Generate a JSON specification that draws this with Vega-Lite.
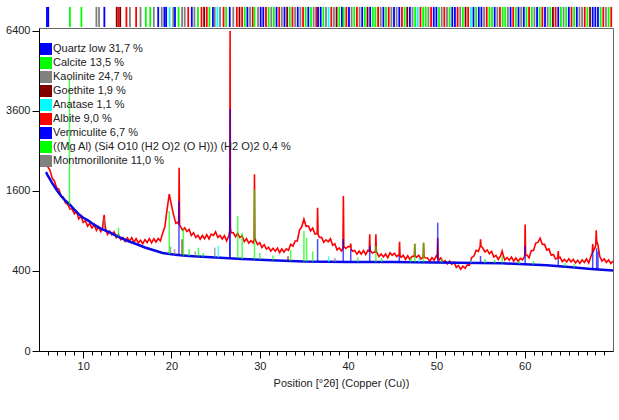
{
  "$schema": "https://vega.github.io/schema/vega-lite/v6.json",
  "width": 574,
  "height": 323,
  "padding": {"left": 5, "top": 6, "right": 6, "bottom": 5},
  "background": "white",
  "config": {
    "view": {"stroke": "#666666", "strokeWidth": 1},
    "font": "Liberation Sans",
    "axis": {"labelFont": "Liberation Sans", "titleFont": "Liberation Sans", "labelFontSize": 11, "titleFontSize": 11, "labelColor": "#222222", "titleColor": "#222222", "titleFontWeight": "normal", "domainColor": "#000000", "tickColor": "#000000", "grid": false}
  },
  "datasets": {
    "phases": [
      {"p": "Q", "name": "Quartz low 31,7 %"},
      {"p": "C", "name": "Calcite 13,5 %"},
      {"p": "K", "name": "Kaolinite 24,7 %"},
      {"p": "G", "name": "Goethite 1,9 %"},
      {"p": "A", "name": "Anatase 1,1 %"},
      {"p": "Ab", "name": "Albite 9,0 %"},
      {"p": "V", "name": "Vermiculite 6,7 %"},
      {"p": "M", "name": "((Mg Al) (Si4 O10 (H2 O)2 (O H))) (H2 O)2 0,4 %"},
      {"p": "Mt", "name": "Montmorillonite 11,0 %"}
    ],
    "obs": [
      {"x":5.75,"y":2295},{"x":6.0,"y":2118},{"x":6.25,"y":2040},{"x":6.5,"y":1862},{"x":6.75,"y":1807},{"x":7.0,"y":1663},{"x":7.25,"y":1640},{"x":7.5,"y":1497},{"x":7.75,"y":1479},{"x":8.0,"y":1369},{"x":8.25,"y":1343},{"x":8.5,"y":1259},{"x":8.75,"y":1259},{"x":9.0,"y":1176},{"x":9.25,"y":1218},{"x":9.5,"y":1091},{"x":9.75,"y":1139},{"x":10.0,"y":1033},{"x":10.25,"y":1061},{"x":10.5,"y":974},{"x":10.75,"y":1015},{"x":11.0,"y":946},{"x":11.25,"y":998},{"x":11.5,"y":907},{"x":11.75,"y":962},{"x":12.0,"y":892},
      {"x":12.2,"y":950},{"x":12.3,"y":1080},{"x":12.38,"y":1160},{"x":12.46,"y":1020},{"x":12.55,"y":930},
      {"x":12.75,"y":850},{"x":13.0,"y":896},{"x":13.25,"y":843},{"x":13.5,"y":887},{"x":13.75,"y":805},{"x":14.0,"y":848},{"x":14.25,"y":776},{"x":14.5,"y":806},{"x":14.75,"y":749},{"x":15.0,"y":798},{"x":15.25,"y":755},{"x":15.5,"y":803},{"x":15.75,"y":737},{"x":16.0,"y":788},{"x":16.25,"y":732},{"x":16.5,"y":767},{"x":16.75,"y":720},{"x":17.0,"y":775},{"x":17.25,"y":735},{"x":17.5,"y":790},{"x":17.75,"y":732},{"x":18.0,"y":788},{"x":18.25,"y":742},{"x":18.5,"y":790},{"x":18.75,"y":758},{"x":19.0,"y":865},{"x":19.25,"y":960},{"x":19.5,"y":1250},{"x":19.75,"y":1540},{"x":20.0,"y":1330},{"x":20.25,"y":1150},{"x":20.5,"y":1018},{"x":20.75,"y":1040},
      {"x":20.82,"y":1000},{"x":20.87,"y":2100},{"x":20.92,"y":1000},
      {"x":21.0,"y":975},{"x":21.25,"y":912},{"x":21.5,"y":948},{"x":21.75,"y":892},{"x":22.0,"y":924},{"x":22.25,"y":834},{"x":22.5,"y":874},{"x":22.75,"y":805},{"x":23.0,"y":836},{"x":23.25,"y":782},{"x":23.5,"y":834},{"x":23.75,"y":789},{"x":24.0,"y":845},{"x":24.25,"y":786},{"x":24.5,"y":853},{"x":24.75,"y":834},{"x":25.0,"y":887},{"x":25.25,"y":806},{"x":25.5,"y":834},{"x":25.75,"y":784},{"x":26.0,"y":830},{"x":26.25,"y":757},{"x":26.5,"y":832},
      {"x":26.6,"y":900},{"x":26.64,"y":6400},{"x":26.68,"y":950},
      {"x":26.75,"y":873},{"x":27.0,"y":877},{"x":27.25,"y":816},{"x":27.5,"y":865},{"x":27.75,"y":804},{"x":28.0,"y":830},{"x":28.25,"y":747},{"x":28.5,"y":790},{"x":28.75,"y":728},{"x":29.0,"y":760},{"x":29.25,"y":730},
      {"x":29.36,"y":780},{"x":29.4,"y":1950},{"x":29.44,"y":800},
      {"x":29.55,"y":760},{"x":29.75,"y":706},{"x":30.0,"y":735},{"x":30.25,"y":669},{"x":30.5,"y":707},{"x":30.75,"y":650},{"x":31.0,"y":673},{"x":31.25,"y":624},{"x":31.5,"y":659},{"x":31.75,"y":622},{"x":32.0,"y":662},{"x":32.25,"y":606},{"x":32.5,"y":650},{"x":32.75,"y":611},{"x":33.0,"y":653},{"x":33.25,"y":634},{"x":33.5,"y":711},{"x":33.75,"y":686},{"x":34.0,"y":756},{"x":34.25,"y":757},{"x":34.5,"y":915},{"x":34.75,"y":960},{"x":35.0,"y":1086},{"x":35.25,"y":970},{"x":35.5,"y":979},{"x":35.75,"y":902},{"x":36.0,"y":945},{"x":36.25,"y":854},
      {"x":36.5,"y":860},{"x":36.55,"y":1280},{"x":36.6,"y":850},
      {"x":36.75,"y":805},{"x":37.0,"y":806},{"x":37.25,"y":739},{"x":37.5,"y":773},{"x":37.75,"y":745},{"x":38.0,"y":788},{"x":38.25,"y":698},{"x":38.5,"y":718},{"x":38.75,"y":640},{"x":39.0,"y":663},{"x":39.25,"y":624},
      {"x":39.42,"y":660},{"x":39.47,"y":1500},{"x":39.52,"y":680},
      {"x":39.75,"y":657},{"x":40.0,"y":683},{"x":40.25,"y":680},{"x":40.3,"y":720},{"x":40.35,"y":650},{"x":40.5,"y":621},{"x":40.75,"y":632},{"x":41.0,"y":586},{"x":41.25,"y":623},{"x":41.5,"y":588},{"x":41.75,"y":630},{"x":42.0,"y":582},{"x":42.25,"y":634},
      {"x":42.4,"y":620},{"x":42.45,"y":850},{"x":42.5,"y":630},
      {"x":42.75,"y":601},{"x":43.0,"y":612},{"x":43.1,"y":610},{"x":43.15,"y":850},{"x":43.2,"y":620},
      {"x":43.5,"y":557},{"x":43.75,"y":587},{"x":44.0,"y":554},{"x":44.25,"y":588},{"x":44.5,"y":543},{"x":44.75,"y":603},{"x":45.0,"y":572},{"x":45.25,"y":597},{"x":45.5,"y":557},{"x":45.7,"y":575},
      {"x":45.78,"y":570},{"x":45.83,"y":747},{"x":45.88,"y":570},
      {"x":46.0,"y":549},{"x":46.25,"y":572},{"x":46.5,"y":524},{"x":46.75,"y":567},{"x":47.0,"y":524},{"x":47.25,"y":561},
      {"x":47.5,"y":560},{"x":47.55,"y":720},{"x":47.6,"y":565},
      {"x":47.75,"y":549},{"x":48.0,"y":572},{"x":48.25,"y":529},
      {"x":48.5,"y":550},{"x":48.55,"y":733},{"x":48.6,"y":555},
      {"x":48.75,"y":543},{"x":49.0,"y":541},{"x":49.25,"y":504},{"x":49.5,"y":546},{"x":49.75,"y":515},{"x":50.0,"y":567},
      {"x":50.1,"y":550},{"x":50.15,"y":800},{"x":50.2,"y":550},
      {"x":50.3,"y":514},{"x":50.5,"y":541},{"x":50.75,"y":490},{"x":51.0,"y":510},{"x":51.25,"y":475},{"x":51.5,"y":505},{"x":51.75,"y":470},{"x":52.0,"y":494},{"x":52.25,"y":437},{"x":52.5,"y":458},{"x":52.75,"y":417},{"x":53.0,"y":449},{"x":53.25,"y":427},{"x":53.5,"y":464},{"x":53.75,"y":461},{"x":54.0,"y":546},{"x":54.25,"y":563},{"x":54.5,"y":634},{"x":54.75,"y":621},
      {"x":54.95,"y":680},{"x":55.0,"y":780},{"x":55.05,"y":690},
      {"x":55.25,"y":663},{"x":55.5,"y":614},{"x":55.75,"y":639},{"x":56.0,"y":593},{"x":56.25,"y":620},{"x":56.5,"y":553},{"x":56.75,"y":572},{"x":57.0,"y":524},{"x":57.25,"y":561},{"x":57.45,"y":625},{"x":57.6,"y":560},{"x":57.75,"y":518},{"x":58.0,"y":546},{"x":58.25,"y":515},{"x":58.5,"y":551},{"x":58.75,"y":504},{"x":59.0,"y":541},{"x":59.25,"y":504},{"x":59.5,"y":536},{"x":59.75,"y":518},
      {"x":60.0,"y":560},{"x":60.05,"y":1000},{"x":60.1,"y":580},
      {"x":60.25,"y":577},{"x":60.5,"y":544},{"x":60.75,"y":630},{"x":61.0,"y":631},{"x":61.25,"y":728},{"x":61.5,"y":737},{"x":61.75,"y":796},{"x":62.0,"y":710},{"x":62.25,"y":711},{"x":62.5,"y":637},{"x":62.75,"y":651},{"x":63.0,"y":572},{"x":63.25,"y":582},{"x":63.5,"y":529},
      {"x":63.75,"y":540},{"x":63.8,"y":625},{"x":63.85,"y":540},
      {"x":64.0,"y":551},{"x":64.25,"y":499},{"x":64.5,"y":525},{"x":64.75,"y":495},{"x":65.0,"y":530},{"x":65.25,"y":495},{"x":65.5,"y":525},{"x":65.75,"y":485},{"x":66.0,"y":515},{"x":66.25,"y":480},{"x":66.5,"y":520},{"x":66.75,"y":490},{"x":67.0,"y":530},{"x":67.25,"y":485},{"x":67.5,"y":560},
      {"x":67.65,"y":600},{"x":67.7,"y":715},{"x":67.75,"y":620},{"x":67.9,"y":650},{"x":68.05,"y":700},{"x":68.1,"y":911},{"x":68.15,"y":760},{"x":68.3,"y":700},{"x":68.5,"y":560},
      {"x":68.75,"y":504},{"x":69.0,"y":530},{"x":69.25,"y":490},{"x":69.5,"y":520},{"x":69.75,"y":480},{"x":70.0,"y":505}
    ],
    "bg": [
      {"x":5.8,"y":2000},{"x":6.0,"y":1920},{"x":6.5,"y":1760},{"x":7.0,"y":1620},{"x":7.5,"y":1500},{"x":8.0,"y":1410},{"x":8.5,"y":1340},{"x":9.0,"y":1250},{"x":9.5,"y":1170},{"x":10.0,"y":1110},{"x":10.5,"y":1070},{"x":11.0,"y":1020},{"x":11.5,"y":975},{"x":12.0,"y":935},{"x":13.0,"y":880},{"x":14.0,"y":815},{"x":15.0,"y":760},{"x":16.0,"y":715},{"x":17.0,"y":670},{"x":18.0,"y":635},{"x":19.0,"y":600},{"x":20.0,"y":585},{"x":21.0,"y":572},{"x":22.0,"y":565},{"x":23.0,"y":558},{"x":24.0,"y":552},{"x":25.0,"y":545},{"x":26.0,"y":540},{"x":28.0,"y":530},{"x":30.0,"y":520},{"x":32.0,"y":512},{"x":35.0,"y":500},{"x":40.0,"y":495},{"x":45.0,"y":495},{"x":50.0,"y":490},{"x":55.0,"y":485},{"x":57.5,"y":480},{"x":60.0,"y":470},{"x":62.5,"y":460},{"x":65.0,"y":440},{"x":67.5,"y":420},{"x":70.0,"y":405}
    ],
    "pk": [
      {"x":8.45,"b":1345,"h":4650,"p":"M"},{"x":12.38,"b":935,"h":1100,"p":"K"},{"x":14.0,"b":820,"h":950,"p":"M"},{"x":19.75,"b":590,"h":1225,"p":"M"},{"x":19.9,"b":590,"h":680,"p":"K"},{"x":20.35,"b":580,"h":650,"p":"K"},{"x":20.85,"b":575,"h":1400,"p":"Q"},{"x":21.2,"b":572,"h":780,"p":"G"},{"x":21.35,"b":570,"h":930,"p":"M"},{"x":22.0,"b":565,"h":650,"p":"C"},{"x":22.7,"b":560,"h":620,"p":"K"},{"x":23.05,"b":558,"h":667,"p":"C"},{"x":23.6,"b":555,"h":600,"p":"M"},{"x":24.9,"b":546,"h":667,"p":"K"},{"x":25.3,"b":544,"h":690,"p":"A"},{"x":26.64,"b":540,"h":3660,"p":"Q"},{"x":26.6,"b":540,"h":1740,"p":"V"},{"x":27.5,"b":537,"h":1140,"p":"C"},{"x":28.0,"b":530,"h":875,"p":"M"},{"x":29.4,"b":525,"h":1620,"p":"C"},{"x":30.0,"b":520,"h":600,"p":"M"},{"x":31.5,"b":514,"h":570,"p":"C"},{"x":33.2,"b":508,"h":560,"p":"G"},{"x":33.5,"b":507,"h":640,"p":"M"},{"x":35.0,"b":500,"h":900,"p":"M"},{"x":35.3,"b":500,"h":800,"p":"C"},{"x":36.0,"b":498,"h":620,"p":"C"},{"x":36.55,"b":498,"h":784,"p":"Q"},{"x":37.8,"b":497,"h":560,"p":"A"},{"x":38.5,"b":496,"h":540,"p":"K"},{"x":39.45,"b":495,"h":784,"p":"Q"},{"x":40.3,"b":495,"h":650,"p":"Q"},{"x":41.1,"b":495,"h":545,"p":"M"},{"x":42.45,"b":495,"h":690,"p":"Q"},{"x":43.15,"b":495,"h":690,"p":"C"},{"x":43.8,"b":495,"h":540,"p":"M"},{"x":45.8,"b":495,"h":564,"p":"Q"},{"x":47.1,"b":493,"h":540,"p":"M"},{"x":47.55,"b":493,"h":715,"p":"C"},{"x":48.05,"b":492,"h":545,"p":"A"},{"x":48.55,"b":492,"h":733,"p":"C"},{"x":50.15,"b":490,"h":1030,"p":"Q"},{"x":50.6,"b":489,"h":530,"p":"M"},{"x":53.9,"b":486,"h":520,"p":"A"},{"x":55.0,"b":485,"h":564,"p":"Q"},{"x":55.5,"b":484,"h":530,"p":"M"},{"x":56.6,"b":482,"h":520,"p":"C"},{"x":57.45,"b":480,"h":560,"p":"C"},{"x":59.4,"b":474,"h":510,"p":"M"},{"x":60.05,"b":470,"h":689,"p":"Q"},{"x":61.0,"b":466,"h":505,"p":"M"},{"x":63.8,"b":455,"h":525,"p":"Q"},{"x":64.6,"b":445,"h":480,"p":"C"},{"x":65.6,"b":436,"h":470,"p":"M"},{"x":67.7,"b":420,"h":625,"p":"Q"},{"x":68.15,"b":416,"h":660,"p":"Q"},{"x":68.3,"b":415,"h":620,"p":"V"}
    ],
    "ref": [
      {"x":5.9,"p":"V"},{"x":6.05,"p":"V"},{"x":8.5,"p":"M"},{"x":9.8,"p":"M"},{"x":11.5,"p":"K"},{"x":11.8,"p":"Mt"},{"x":12.4,"p":"V"},
      {"x":13.8,"p":"G"},{"x":14.0,"p":"Ab"},{"x":14.2,"p":"G"},{"x":14.9,"p":"Ab"},{"x":15.3,"p":"K"},{"x":16.0,"p":"Ab"},{"x":16.5,"p":"K"},{"x":17.1,"p":"M"},{"x":17.6,"p":"C"},{"x":18.0,"p":"K"},{"x":18.5,"p":"V"},{"x":18.9,"p":"K"},{"x":19.2,"p":"Q"},{"x":19.4,"p":"V"},{"x":19.8,"p":"A"},{"x":20.2,"p":"K"},{"x":20.4,"p":"Q"},{"x":20.8,"p":"M"},{"x":21.2,"p":"K"},{"x":21.5,"p":"Mt"},{"x":21.9,"p":"Ab"},{"x":22.3,"p":"Q"},{"x":22.6,"p":"K"},{"x":23.0,"p":"C"},{"x":23.4,"p":"Ab"},{"x":23.7,"p":"G"},{"x":24.0,"p":"Ab"},{"x":24.3,"p":"M"},{"x":24.7,"p":"Q"},{"x":24.9,"p":"K"},{"x":25.2,"p":"A"},{"x":25.5,"p":"K"},{"x":25.9,"p":"Ab"},{"x":26.2,"p":"M"},{"x":26.6,"p":"Q"},{"x":27.0,"p":"K"},{"x":27.4,"p":"Ab"},{"x":27.7,"p":"G"},{"x":28.0,"p":"Ab"},{"x":28.3,"p":"M"},{"x":28.6,"p":"Q"},{"x":28.9,"p":"Mt"},{"x":29.2,"p":"Ab"},{"x":29.4,"p":"C"},{"x":29.8,"p":"K"},{"x":30.1,"p":"V"},{"x":30.4,"p":"Q"},{"x":30.7,"p":"Ab"},{"x":31.0,"p":"M"},{"x":31.3,"p":"K"},{"x":31.6,"p":"C"},{"x":31.9,"p":"V"},{"x":32.2,"p":"Ab"},{"x":32.5,"p":"Mt"},{"x":32.8,"p":"Q"},{"x":33.1,"p":"G"},{"x":33.4,"p":"M"},{"x":33.7,"p":"Ab"},{"x":34.0,"p":"K"},{"x":34.3,"p":"V"},{"x":34.6,"p":"Mt"},{"x":34.9,"p":"Ab"},{"x":35.2,"p":"M"},{"x":35.5,"p":"Q"},{"x":35.8,"p":"C"},{"x":36.1,"p":"K"},{"x":36.4,"p":"Ab"},{"x":36.6,"p":"Q"},{"x":36.9,"p":"V"},{"x":37.2,"p":"M"},{"x":37.5,"p":"K"},{"x":37.8,"p":"A"},{"x":38.1,"p":"Ab"},{"x":38.4,"p":"K"},{"x":38.7,"p":"G"},{"x":39.0,"p":"M"},{"x":39.3,"p":"Q"},{"x":39.5,"p":"C"},{"x":39.8,"p":"Ab"},{"x":40.1,"p":"V"},{"x":40.4,"p":"K"},{"x":40.7,"p":"M"},{"x":41.0,"p":"Ab"},{"x":41.3,"p":"Mt"},{"x":41.6,"p":"Q"},{"x":41.9,"p":"C"},{"x":42.2,"p":"G"},{"x":42.5,"p":"Q"},{"x":42.8,"p":"M"},{"x":43.1,"p":"C"},{"x":43.4,"p":"Ab"},{"x":43.7,"p":"K"},{"x":44.0,"p":"V"},{"x":44.3,"p":"M"},{"x":44.6,"p":"Ab"},{"x":44.9,"p":"K"},{"x":45.2,"p":"Q"},{"x":45.5,"p":"Mt"},{"x":45.8,"p":"Q"},{"x":46.1,"p":"Ab"},{"x":46.4,"p":"M"},{"x":46.7,"p":"G"},{"x":47.0,"p":"V"},{"x":47.3,"p":"K"},{"x":47.6,"p":"C"},{"x":47.9,"p":"A"},{"x":48.2,"p":"Ab"},{"x":48.5,"p":"C"},{"x":48.8,"p":"M"},{"x":49.1,"p":"K"},{"x":49.4,"p":"Ab"},{"x":49.7,"p":"V"},{"x":50.0,"p":"Q"},{"x":50.3,"p":"M"},{"x":50.6,"p":"Mt"},{"x":50.9,"p":"Ab"},{"x":51.2,"p":"K"},{"x":51.5,"p":"M"},{"x":51.8,"p":"Q"},{"x":52.1,"p":"V"},{"x":52.4,"p":"Ab"},{"x":52.7,"p":"K"},{"x":53.0,"p":"M"},{"x":53.3,"p":"G"},{"x":53.6,"p":"Ab"},{"x":53.9,"p":"A"},{"x":54.2,"p":"Q"},{"x":54.5,"p":"M"},{"x":54.8,"p":"V"},{"x":55.1,"p":"Q"},{"x":55.4,"p":"K"},{"x":55.7,"p":"Ab"},{"x":56.0,"p":"M"},{"x":56.3,"p":"C"},{"x":56.6,"p":"V"},{"x":56.9,"p":"Mt"},{"x":57.2,"p":"Ab"},{"x":57.5,"p":"C"},{"x":57.8,"p":"M"},{"x":58.1,"p":"K"},{"x":58.4,"p":"Q"},{"x":58.7,"p":"Ab"},{"x":59.0,"p":"M"},{"x":59.3,"p":"V"},{"x":59.6,"p":"K"},{"x":59.9,"p":"Q"},{"x":60.2,"p":"M"},{"x":60.5,"p":"Ab"},{"x":60.8,"p":"C"},{"x":61.1,"p":"K"},{"x":61.4,"p":"V"},{"x":61.7,"p":"M"},{"x":62.0,"p":"Ab"},{"x":62.3,"p":"Q"},{"x":62.6,"p":"Mt"},{"x":62.9,"p":"M"},{"x":63.2,"p":"G"},{"x":63.5,"p":"Ab"},{"x":63.8,"p":"Q"},{"x":64.1,"p":"M"},{"x":64.4,"p":"K"},{"x":64.7,"p":"C"},{"x":65.0,"p":"V"},{"x":65.3,"p":"Ab"},{"x":65.6,"p":"M"},{"x":65.9,"p":"Q"},{"x":66.2,"p":"K"},{"x":66.5,"p":"Mt"},{"x":66.8,"p":"Ab"},{"x":67.1,"p":"M"},{"x":67.4,"p":"G"},{"x":67.7,"p":"Q"},{"x":68.0,"p":"V"},{"x":68.3,"p":"Q"},{"x":68.6,"p":"M"},{"x":68.9,"p":"Ab"},{"x":69.2,"p":"K"},{"x":69.5,"p":"M"},{"x":69.8,"p":"Ab"}
    ]
  },
  "resolve": {"axis": {"x": "independent"}},
  "layer": [
    {
      "data": {"name": "obs"},
      "mark": {"type": "line", "color": "#FF0000", "strokeWidth": 1.6},
      "encoding": {
        "x": {"field": "x", "type": "quantitative", "scale": {"domain": [5, 70], "nice": false, "zero": false, "padding": 0},
              "axis": {"orient": "bottom", "values": [6,7,8,9,11,12,13,14,15,16,17,18,19,21,22,23,24,25,26,27,28,29,31,32,33,34,35,36,37,38,39,41,42,43,44,45,46,47,48,49,51,52,53,54,55,56,57,58,59,61,62,63,64,65,66,67,68,69], "labels": false, "tickSize": 4, "domain": false, "title": null, "grid": false}},
        "y": {"field": "y", "type": "quantitative", "scale": {"type": "sqrt", "domain": [0, 6520], "nice": false},
              "axis": {"values": [0, 400, 1600, 3600, 6400], "tickSize": 7, "labelPadding": 2, "title": null, "grid": false, "format": "d"}}
      }
    },
    {
      "data": {"name": "bg"},
      "mark": {"type": "line", "color": "#0a0ae6", "strokeWidth": 2.5},
      "encoding": {
        "x": {"field": "x", "type": "quantitative",
              "axis": {"orient": "bottom", "values": [10, 20, 30, 40, 50, 60], "tickSize": 7, "labelPadding": 2, "title": "Position [°2θ] (Copper (Cu))", "titlePadding": 6, "titleX": 302, "titleAlign": "center", "grid": false}},
        "y": {"field": "y", "type": "quantitative"}
      }
    },
    {
      "data": {"name": "pk"},
      "transform": [{"lookup": "p", "from": {"data": {"name": "phases"}, "key": "p", "fields": ["name"]}}],
      "mark": {"type": "bar", "orient": "vertical", "size": 1.5, "fillOpacity": 0.7},
      "encoding": {
        "x": {"field": "x", "type": "quantitative", "axis": null},
        "y": {"field": "b", "type": "quantitative"},
        "y2": {"field": "h"},
        "color": {"field": "name", "type": "nominal",
          "scale": {"domain": ["Quartz low 31,7 %", "Calcite 13,5 %", "Kaolinite 24,7 %", "Goethite 1,9 %", "Anatase 1,1 %", "Albite 9,0 %", "Vermiculite 6,7 %", "((Mg Al) (Si4 O10 (H2 O)2 (O H))) (H2 O)2 0,4 %", "Montmorillonite 11,0 %"],
                    "range": ["#0000FF", "#00FF00", "#808080", "#800000", "#00FFFF", "#FF0000", "#0000FF", "#00FF00", "#808080"]},
          "legend": {"orient": "none", "legendX": 1, "legendY": 15, "title": null, "padding": 0,
                     "symbolType": "square", "symbolSize": 144, "symbolStrokeWidth": 0, "symbolOpacity": 1, "labelOffset": 1, "rowPadding": 2,
                     "labelFont": "Liberation Sans", "labelFontSize": 11, "labelColor": "#222222", "labelLimit": 400,
                     "encode": {"symbols": {"update": {"opacity": {"value": 1}, "fillOpacity": {"value": 1}}}}}}
      }
    },
    {
      "data": {"name": "ref"},
      "transform": [{"lookup": "p", "from": {"data": {"name": "phases"}, "key": "p", "fields": ["name"]}}],
      "mark": {"type": "bar", "orient": "vertical", "size": 1.8},
      "encoding": {
        "x": {"field": "x", "type": "quantitative", "axis": null},
        "y": {"datum": 6560},
        "y2": {"datum": 7400},
        "color": {"field": "name", "type": "nominal"}
      }
    }
  ]
}
